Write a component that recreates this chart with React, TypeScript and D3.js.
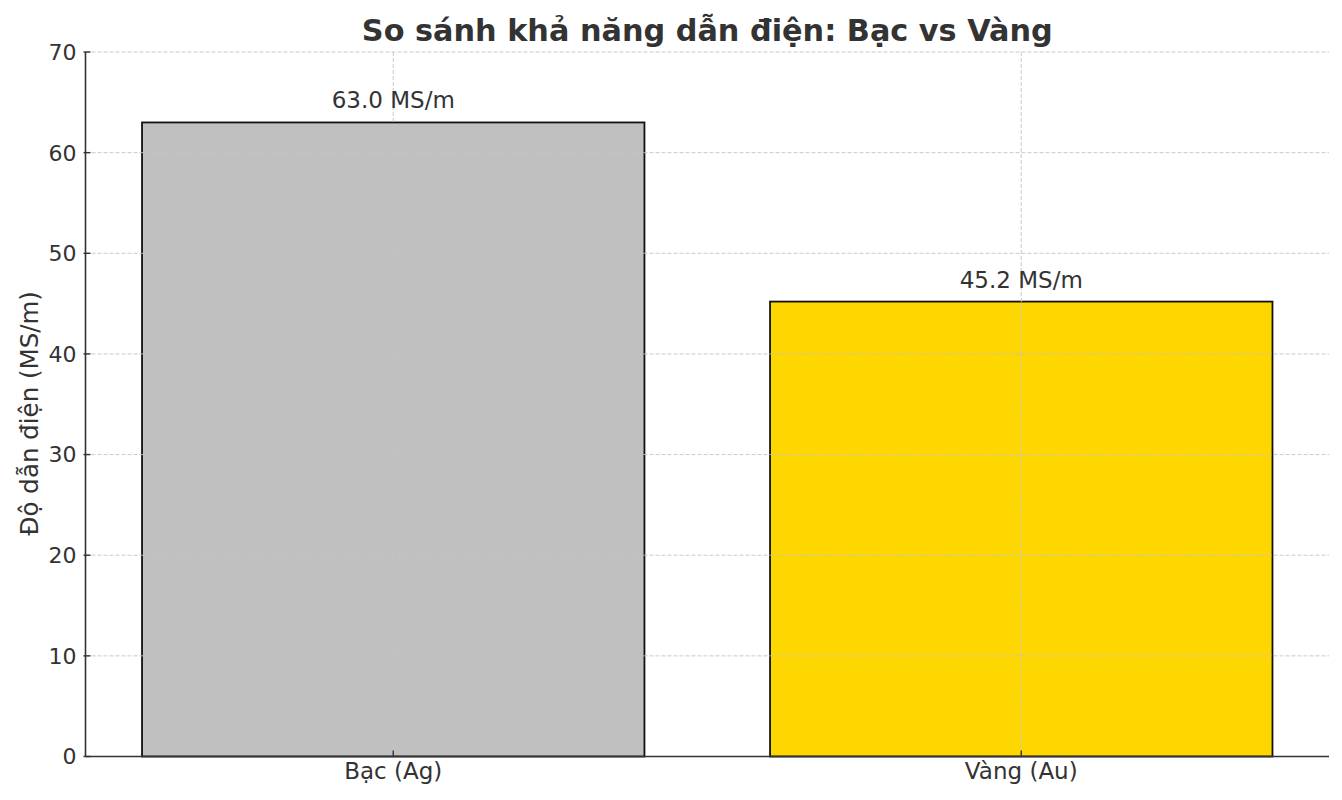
import React, { useEffect, useRef } from "react";
import * as d3 from "d3";

const categories = ["Bạc (Ag)", "Vàng (Au)"];
const values = [63.0, 45.2];
const barColors = ["#c0c0c0", "#ffd700"];
const yTicks = [0, 10, 20, 30, 40, 50, 60, 70];

const title = "So sánh khả năng dẫn điện: Bạc vs Vàng";
const yLabel = "Độ dẫn điện (MS/m)";
const unit = "MS/m";

const App: React.FC = () => {
  const svgRef = useRef<SVGSVGElement | null>(null);

  useEffect(() => {
    document.body.style.margin = "0";
    if (!svgRef.current) return;

    const width = 1342;
    const height = 800;
    const marginTop = 52;
    const marginRight = 13;
    const marginBottom = 43.5;
    const marginLeft = 85.5;
    const font = "'DejaVu Sans', sans-serif";
    const textColor = "#333333";

    // x in category units, like matplotlib: -0.49 .. 1.49
    const x = d3
      .scaleLinear()
      .domain([-0.49, categories.length - 1 + 0.49])
      .range([marginLeft, width - marginRight]);

    const y = d3
      .scaleLinear()
      .domain([0, 70])
      .range([height - marginBottom, marginTop]);

    const svg = d3
      .select(svgRef.current)
      .attr("viewBox", [0, 0, width, height])
      .attr("width", width)
      .attr("height", height)
      .style("display", "block")
      .style("font-family", font);

    svg.selectAll("*").remove();

    // Bars
    const barW = x(0.4) - x(0);
    svg
      .append("g")
      .selectAll("rect")
      .data(values)
      .join("rect")
      .attr("x", (_, i) => x(i) - barW)
      .attr("width", barW * 2)
      .attr("y", (d) => y(d))
      .attr("height", (d) => y(0) - y(d))
      .attr("fill", (_, i) => barColors[i])
      .attr("stroke", "#111111")
      .attr("stroke-width", 1.8);

    // Grid (drawn over the bars, as in the original)
    const grid = svg
      .append("g")
      .attr("stroke", "#c4c4c4")
      .attr("stroke-width", 0.9)
      .attr("stroke-dasharray", "4,2");
    grid
      .selectAll("line.h")
      .data(yTicks)
      .join("line")
      .attr("class", "h")
      .attr("x1", marginLeft)
      .attr("x2", width - marginRight)
      .attr("y1", (d) => y(d))
      .attr("y2", (d) => y(d));
    grid
      .selectAll("line.v")
      .data(categories)
      .join("line")
      .attr("class", "v")
      .attr("x1", (_, i) => x(i))
      .attr("x2", (_, i) => x(i))
      .attr("y1", marginTop)
      .attr("y2", height - marginBottom);

    // Value labels
    svg
      .append("g")
      .selectAll("text")
      .data(values)
      .join("text")
      .attr("x", (_, i) => x(i))
      .attr("y", (d) => y(d) - 14)
      .attr("text-anchor", "middle")
      .attr("font-size", 23)
      .attr("fill", textColor)
      .text((d) => `${d.toFixed(1)} ${unit}`);

    // Y axis
    const yAxis = svg.append("g").attr("transform", `translate(${marginLeft},0)`);
    yAxis
      .append("line")
      .attr("x1", 0)
      .attr("x2", 0)
      .attr("y1", marginTop)
      .attr("y2", height - marginBottom)
      .attr("stroke", textColor)
      .attr("stroke-width", 1.6);
    const yt = yAxis
      .selectAll("g.tick")
      .data(yTicks)
      .join("g")
      .attr("class", "tick")
      .attr("transform", (d) => `translate(0,${y(d)})`);
    yt.append("line").attr("x1", -2).attr("x2", 5).attr("stroke", textColor).attr("stroke-width", 1.4);
    yt.append("text")
      .attr("x", -9)
      .attr("dy", "0.36em")
      .attr("text-anchor", "end")
      .attr("font-size", 22)
      .attr("fill", textColor)
      .text((d) => d);

    // X axis
    const xAxis = svg.append("g").attr("transform", `translate(0,${height - marginBottom})`);
    xAxis
      .append("line")
      .attr("x1", marginLeft)
      .attr("x2", width - marginRight)
      .attr("stroke", textColor)
      .attr("stroke-width", 1.6);
    const xt = xAxis
      .selectAll("g.tick")
      .data(categories)
      .join("g")
      .attr("class", "tick")
      .attr("transform", (_, i) => `translate(${x(i)},0)`);
    xt.append("line").attr("y1", -6).attr("y2", 0).attr("stroke", textColor).attr("stroke-width", 1.4);
    xt.append("text")
      .attr("y", 22)
      .attr("text-anchor", "middle")
      .attr("font-size", 23)
      .attr("fill", textColor)
      .text((d) => d);

    // Y label
    svg
      .append("text")
      .attr("transform", `translate(38,${(marginTop + height - marginBottom) / 2 + 9}) rotate(-90)`)
      .attr("text-anchor", "middle")
      .attr("font-size", 24.5)
      .attr("fill", textColor)
      .text(yLabel);

    // Title
    svg
      .append("text")
      .attr("x", (marginLeft + width - marginRight) / 2)
      .attr("y", 41)
      .attr("text-anchor", "middle")
      .attr("font-size", 30.3)
      .attr("font-weight", "bold")
      .attr("fill", textColor)
      .text(title);
  }, []);

  return <svg ref={svgRef}></svg>;
};

export default App;
